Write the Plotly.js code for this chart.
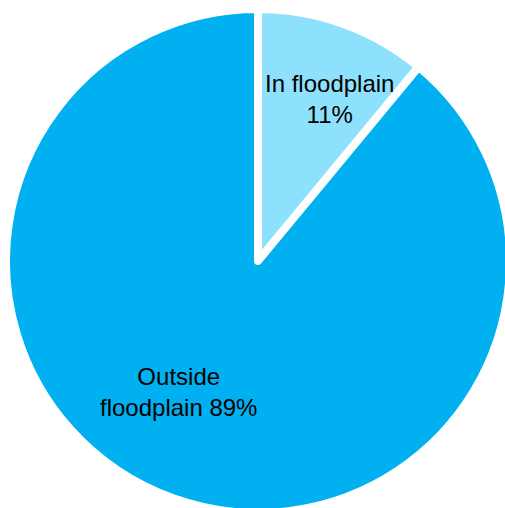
<!DOCTYPE html>
<html><head><meta charset="utf-8">
<script src="https://cdn.plot.ly/plotly-3.0.1.min.js"></script>
<style>html,body{margin:0;padding:0;background:#fff;overflow:hidden;width:505px;height:508px}</style>
</head><body><div id="chart" style="width:520px;height:520px"></div>
<script>
const categories = ["In floodplain", "Outside floodplain"];
const shares = [11, 89];
const colors = ["#8EE1FD", "#00B0F0"];

const W = 520, H = 520;
const cx = 258, cy = 261, r = 252;

const data = [{
  type: "pie",
  labels: categories,
  values: shares,
  sort: false,
  direction: "clockwise",
  rotation: 0,
  marker: {colors: colors, line: {color: "#ffffff", width: 8}},
  textinfo: "none",
  hoverinfo: "label+percent",
  showlegend: false,
  domain: {x: [(cx - r) / W, (cx + r) / W], y: [1 - (cy + r) / H, 1 - (cy - r) / H]}
}];

const font = {family: "Liberation Sans, Arial, sans-serif", size: 24, color: "#000"};
const annotations = [
  {x: 329 / W, y: 1 - 99 / H, text: categories[0] + "<br>" + shares[0] + "%"},
  {x: 178 / W, y: 1 - 392 / H, text: "Outside<br>floodplain " + shares[1] + "%"}
].map(a => Object.assign({xref: "paper", yref: "paper", showarrow: false, font: font, align: "center", xanchor: "center", yanchor: "middle"}, a));

const layout = {
  width: W, height: H,
  margin: {l: 0, r: 0, t: 0, b: 0},
  paper_bgcolor: "#fff",
  annotations: annotations
};
Plotly.newPlot("chart", data, layout, {displayModeBar: false, staticPlot: true});
</script></body></html>
